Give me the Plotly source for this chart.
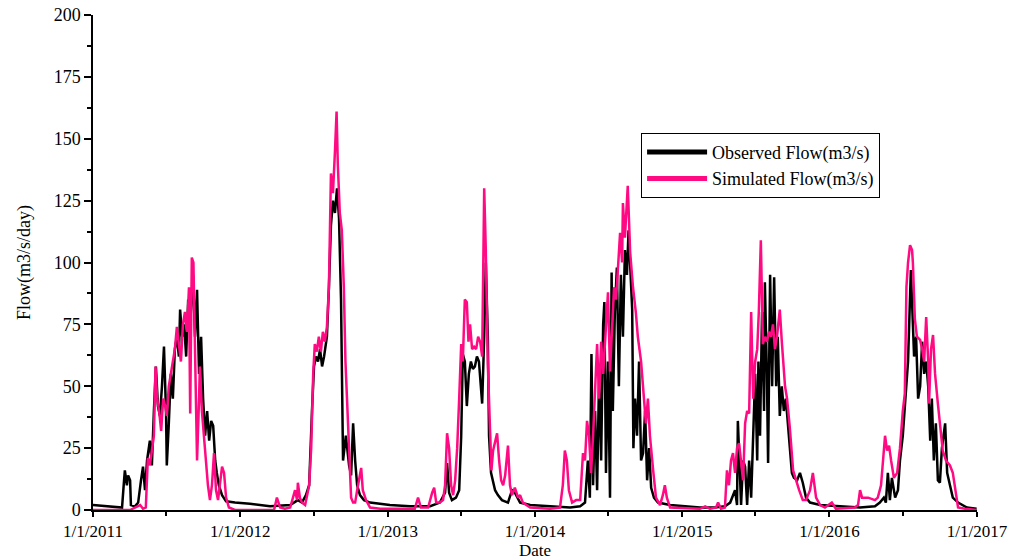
import pandas as pd
import plotly.graph_objects as go

START = "2011-01-01"

# Observed flow: day offset since 1/1/2011 and value
obs_day = [0, 17, 55, 72, 77, 79, 84, 87, 92, 94, 104, 112, 119, 124, 129, 134, 141, 146, 151, 156,
           161, 166, 171, 176, 181, 183, 188, 193, 198, 203, 208, 213, 216, 221, 226, 231, 236, 241, 248, 253,
           258, 263, 268, 273, 278, 283, 288, 293, 298, 303, 307, 312, 320, 330, 352, 389, 439, 489, 508, 518,
           528, 536, 543, 548, 553, 558, 563, 568, 573, 580, 585, 590, 595, 600, 605, 610, 615, 620, 627, 635,
           640, 645, 650, 655, 662, 672, 687, 736, 786, 836, 860, 873, 878, 883, 890, 900, 908, 913, 917, 922,
           927, 932, 937, 942, 947, 952, 957, 965, 970, 974, 979, 982, 987, 992, 997, 1004, 1014, 1029, 1039, 1046,
           1059, 1084, 1133, 1183, 1208, 1220, 1227, 1232, 1236, 1240, 1245, 1250, 1255, 1260, 1265, 1268, 1272, 1277, 1282, 1286,
           1289, 1294, 1299, 1304, 1309, 1314, 1319, 1324, 1328, 1332, 1337, 1340, 1344, 1349, 1354, 1359, 1364, 1369, 1374, 1379,
           1384, 1391, 1401, 1431, 1480, 1505, 1542, 1567, 1580, 1592, 1597, 1599, 1604, 1607, 1612, 1617, 1622, 1627, 1632, 1637,
           1642, 1647, 1650, 1654, 1659, 1664, 1666, 1671, 1674, 1679, 1684, 1689, 1694, 1698, 1703, 1708, 1713, 1718, 1723, 1728,
           1733, 1738, 1746, 1753, 1760, 1768, 1778, 1803, 1852, 1902, 1939, 1951, 1961, 1966, 1971, 1976, 1981, 1989, 1996, 2001,
           2008, 2016, 2021, 2028, 2031, 2036, 2041, 2046, 2051, 2056, 2061, 2066, 2071, 2076, 2080, 2085, 2090, 2095, 2100, 2105,
           2113, 2118, 2125, 2132, 2145, 2167, 2191]
obs_val = [2.0, 1.8, 1.3, 1.0, 12, 16, 10, 14, 12, 2, 1.5, 3, 12, 17.5, 8, 20, 28, 18, 40, 58,
           42, 38, 50, 66, 40, 18, 35, 55, 45, 65, 70, 62, 81, 70, 75, 62, 85, 75, 95, 70,
           89, 55, 70, 45, 30, 40, 28, 36, 34, 20, 15, 10, 6, 3.5, 3, 2.5, 1.5, 2, 4, 3,
           6, 10, 40, 58, 62, 60, 65, 58, 62, 70, 90, 115, 125, 120, 130, 118, 85, 20, 30, 18,
           14, 35, 20, 10, 6, 4, 3, 2, 1.5, 1.5, 3, 7, 19, 7, 4, 5, 8, 30, 63, 60,
           42, 55, 60, 57, 58, 62, 60, 43, 70, 100, 70, 30, 15, 12, 8, 6, 4, 3, 8, 7,
           3, 2, 1.5, 1, 1.5, 3, 20, 5, 63, 10, 40, 8, 55, 20, 75, 84, 15, 60, 5, 96,
           40, 80, 98, 50, 95, 70, 105, 95, 113, 100, 81, 25, 45, 30, 60, 20, 23, 40, 12, 25,
           9, 5, 3, 2, 1.5, 1, 1, 1.5, 3, 8, 2, 36, 15, 2, 20, 17.5, 2, 20, 5, 30,
           55, 20, 60, 30, 80, 40, 92, 55, 19, 95, 50, 94, 50, 70, 38, 50, 40, 45, 35, 25,
           15, 13, 12, 15, 11, 5, 3, 2, 1.5, 1, 1.5, 3, 5, 3, 15, 4, 13, 5, 8, 20,
           30, 50, 60, 97, 80, 62, 70, 45, 50, 68, 55, 60, 50, 28, 45, 20, 35, 12, 11, 25,
           35, 15, 10, 5, 3, 1, 0.5]

# Simulated flow
sim_day = [0, 92, 104, 117, 124, 131, 136, 141, 146, 151, 155, 159, 164, 169, 174, 179, 183, 188, 193, 198,
           203, 208, 213, 218, 223, 228, 233, 238, 241, 243, 245, 249, 253, 258, 263, 265, 270, 275, 280, 285,
           290, 295, 300, 305, 310, 315, 320, 325, 330, 337, 352, 449, 456, 464, 476, 489, 496, 501, 506, 508,
           513, 518, 526, 531, 536, 541, 546, 550, 555, 560, 565, 570, 575, 580, 585, 590, 595, 600, 604, 607,
           612, 617, 622, 626, 630, 635, 640, 645, 650, 655, 660, 665, 669, 677, 687, 712, 798, 806, 813, 831,
           841, 846, 851, 860, 868, 873, 878, 883, 888, 893, 898, 903, 908, 913, 917, 922, 927, 931, 935, 940,
           945, 950, 955, 960, 965, 967, 970, 974, 979, 984, 988, 992, 997, 1002, 1007, 1012, 1017, 1022, 1029, 1034,
           1039, 1046, 1054, 1059, 1066, 1084, 1133, 1158, 1165, 1170, 1175, 1180, 1188, 1198, 1208, 1215, 1220, 1225, 1230, 1235,
           1240, 1245, 1250, 1255, 1260, 1265, 1270, 1275, 1277, 1282, 1287, 1292, 1297, 1302, 1307, 1312, 1314, 1319, 1326, 1332,
           1339, 1346, 1351, 1359, 1364, 1371, 1376, 1381, 1389, 1396, 1406, 1413, 1418, 1423, 1431, 1480, 1505, 1518, 1530, 1545,
           1550, 1557, 1567, 1572, 1577, 1582, 1587, 1592, 1597, 1602, 1607, 1612, 1617, 1622, 1627, 1632, 1637, 1642, 1647, 1651,
           1656, 1659, 1661, 1666, 1671, 1676, 1681, 1686, 1691, 1696, 1701, 1703, 1708, 1711, 1716, 1721, 1728, 1736, 1743, 1751,
           1760, 1768, 1778, 1785, 1793, 1803, 1815, 1832, 1842, 1889, 1897, 1902, 1907, 1922, 1939, 1946, 1954, 1961, 1964, 1969,
           1974, 1979, 1986, 1994, 2001, 2008, 2013, 2017, 2021, 2026, 2031, 2033, 2038, 2043, 2051, 2056, 2061, 2066, 2071, 2073,
           2078, 2083, 2088, 2095, 2100, 2107, 2115, 2125, 2132, 2140, 2145, 2162, 2191]
sim_val = [0, 0, 1, 2, 0.5, 1, 21, 18, 24, 30, 58, 45, 40, 32, 45, 42, 38, 50, 55, 60,
           65, 74, 68, 60, 75, 80, 72, 90, 39, 85, 102, 100, 70, 20, 45, 58, 40, 30, 20, 10,
           4, 10, 23, 8, 4, 10, 17.5, 15, 5, 1, 0, 0, 5, 1, 0.5, 1, 5, 8, 4, 11,
           5, 3, 2, 6, 10, 25, 55, 67, 64, 70, 64, 72, 68, 74, 90, 136, 128, 145, 161, 140,
           120, 113, 90, 60, 42, 20, 5, 3, 3, 8, 12, 17, 8, 4, 1, 0.5, 0.5, 5, 1, 1,
           7, 9, 3, 3, 4, 10, 31, 25, 10, 6, 12, 25, 45, 67, 60, 85, 84, 68, 75, 65,
           66, 65, 70, 68, 62, 100, 130, 105, 59, 35, 16, 24, 28, 31, 20, 12, 10, 14, 26, 10,
           6, 9, 5, 6, 3, 1, 0.5, 1, 10, 24, 20, 8, 3, 4, 4, 23, 20, 36, 30, 15,
           30, 50, 67, 45, 68, 55, 70, 85, 88, 56, 75, 90, 85, 100, 112, 100, 124, 110, 131, 104,
           90, 80, 70, 60, 50, 35, 45, 30, 16, 5, 2, 6, 10, 5, 1, 0.5, 0.5, 1.5, 0.5, 1,
           3, 0.5, 1, 16, 10, 20, 23, 15, 25, 27, 20, 12, 35, 40, 39, 80, 45, 60, 65, 80,
           109, 90, 67, 70, 68, 72, 70, 75, 65, 70, 78, 81, 68, 60, 50, 45, 33, 16, 12, 8,
           4, 4, 8, 15, 5, 2, 1, 3, 0.5, 1, 2, 8, 5, 5, 4, 5, 10, 22, 30, 24,
           26, 20, 13, 15, 25, 40, 47, 90, 100, 107, 105, 100, 77, 70, 68.7, 65, 60, 78, 60, 43,
           65, 70.7, 55, 43, 35, 24, 20, 18, 15, 5, 1, 0.5, 0]

y_ticks = [0, 25, 50, 75, 100, 125, 150, 175, 200]

start = pd.Timestamp(START)
obs_dates = start + pd.to_timedelta(obs_day, unit="D")
sim_dates = start + pd.to_timedelta(sim_day, unit="D")

FONT = "Liberation Serif, Times New Roman, serif"

fig = go.Figure()
fig.add_trace(go.Scatter(x=obs_dates, y=obs_val, mode="lines", name="Observed Flow(m3/s)",
                         line=dict(color="black", width=2.5)))
fig.add_trace(go.Scatter(x=sim_dates, y=sim_val, mode="lines", name="Simulated Flow(m3/s)",
                         line=dict(color="#FF0A82", width=2.5)))

fig.update_layout(
    width=1023, height=560,
    margin=dict(l=93, r=46, t=15, b=50),
    paper_bgcolor="white", plot_bgcolor="white",
    font=dict(family=FONT, size=18, color="black"),
    showlegend=True,
    legend=dict(x=0.62, y=0.762, xanchor="left", yanchor="top",
                bordercolor="black", borderwidth=1, bgcolor="white",
                font=dict(family=FONT, size=18), tracegroupgap=0, itemwidth=60,
                itemsizing="constant"),
    xaxis=dict(
        range=["2011-01-01", "2017-01-01"],
        tickformat="%-m/%-d/%Y", dtick="M12", tick0="2011-01-01",
        ticks="outside", ticklen=5, tickwidth=1.5, tickcolor="black",
        showline=True, linecolor="black", linewidth=1.5,
        showgrid=False, zeroline=False, automargin=False,
        tickfont=dict(family=FONT, size=17),
        minor=dict(dtick="M6", tick0="2011-01-01", ticks="outside", ticklen=4,
                   tickcolor="black", tickwidth=1.5, showgrid=False),
        title=dict(text="Date", font=dict(family=FONT, size=17), standoff=4),
    ),
    yaxis=dict(
        range=[0, 200], tickvals=y_ticks,
        ticks="outside", ticklen=7, tickwidth=1.5, tickcolor="black",
        showline=True, linecolor="black", linewidth=1.5,
        showgrid=False, zeroline=False, automargin=False,
        tickfont=dict(family=FONT, size=18),
        minor=dict(dtick=12.5, tick0=0, ticks="outside", ticklen=4,
                   tickcolor="black", tickwidth=1.5, showgrid=False),
        title=dict(text="Flow(m3/s/day)", font=dict(family=FONT, size=18), standoff=18),
    ),
)

fig.write_html("out.html")
